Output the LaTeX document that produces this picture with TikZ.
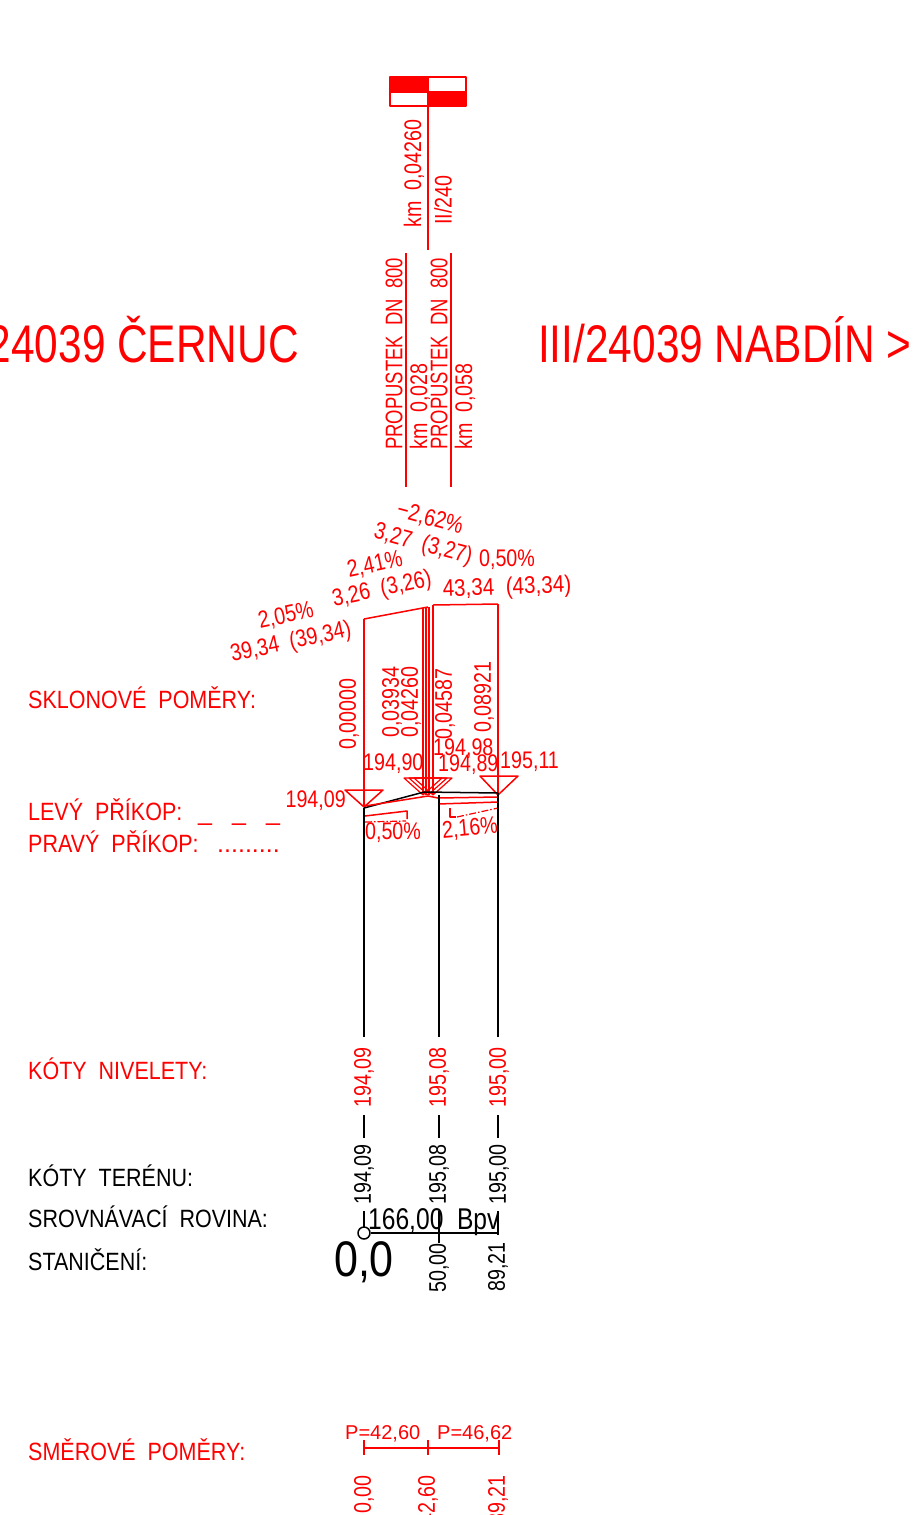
\documentclass[tikz,border=0pt]{standalone}
\usepackage{fontspec}
\setmainfont{Liberation Sans}
\usepackage{graphicx}
\definecolor{cadred}{RGB}{255,0,0}
\newcommand\nar[1]{\scalebox{0.82}[1]{#1}}
\newcommand\narl[1]{\scalebox{0.86}[1]{#1}}
\newcommand\ttl[1]{\scalebox{0.8}[1]{#1}}
\begin{document}
\begin{tikzpicture}[x=1pt,y=-1pt,line join=round,
  t/.style={inner sep=0pt,font=\fontsize{24}{24}\selectfont,text=cadred},
  tb/.style={inner sep=0pt,font=\fontsize{24}{24}\selectfont,text=black},
  lab/.style={inner sep=0pt,font=\fontsize{25}{25}\selectfont,anchor=base west},
  big/.style={inner sep=0pt,font=\fontsize{53}{53}\selectfont,text=cadred},
  rl/.style={draw=cadred,line width=1.5pt},
  bl/.style={draw=black,line width=1.5pt},
  dd/.style={draw=cadred,line width=1.2pt,dash pattern=on 7pt off 2pt on 1.5pt off 2pt}]
\useasboundingbox (0,0) rectangle (914,1515);
\clip (0,0) rectangle (914,1515);
\fill[white] (0,0) rectangle (914,1515);

% ---- flag and km mark
\fill[cadred] (390,77) rectangle (428,92);
\fill[cadred] (428,92) rectangle (466,106);
\draw[rl] (390,77) rectangle (466,106);
\draw[rl] (390,92) -- (466,92);
\coordinate (flagb) at (428,106);
\coordinate (kmend) at (428,250);
\draw[rl] (428,77) -- (flagb) -- (kmend);
\node[t,rotate=90,anchor=west] (kmA) at (414,228) {\nar{km\ \ 0,04260}};
\node[t,rotate=90,anchor=west] (road) at (443,225) {\nar{II/240}};

% ---- culverts
\coordinate (p1t) at (406,253); \coordinate (p1b) at (406,487);
\coordinate (p2t) at (451,253); \coordinate (p2b) at (451,487);
\draw[rl] (p1t) -- (p1b);
\draw[rl] (p2t) -- (p2b);
\node[t,rotate=90,anchor=west] (pr1) at (394,450) {\scalebox{0.77}[1]{PROPUSTEK\ \ DN\ \ 800}};
\node[t,rotate=90,anchor=west] (pk1) at (420,450) {\nar{km\ \ 0,028}};
\node[t,rotate=90,anchor=west] (pr2) at (439,450) {\scalebox{0.77}[1]{PROPUSTEK\ \ DN\ \ 800}};
\node[t,rotate=90,anchor=west] (pk2) at (465,450) {\nar{km\ \ 0,058}};

% ---- titles
\node[big,anchor=base east] (tl) at (299,362) {\ttl{24039 ČERNUC}};
\node[big,anchor=base west] (tr) at (538,362) {\ttl{III/24039 NABDÍN >}};

% ---- slope texts
\node[t,rotate=12] (s1) at (291,643) {\nar{39,34\ \ (39,34)}};
\node[t,rotate=12] (s2) at (286,616) {\nar{2,05\%}};
\node[t,rotate=12] (s3) at (382,590) {\nar{3,26\ \ (3,26)}};
\node[t,rotate=12] (s4) at (375,565) {\nar{2,41\%}};
\node[t,rotate=-15] (s5) at (423,545) {\nar{3,27\ \ (3,27)}};
\node[t,rotate=-15] (s6) at (430,519) {\nar{−2,62\%}};
\node[t] (s7) at (507,560) {\nar{0,50\%}};
\node[t,rotate=2] (s8) at (507,588) {\scalebox{0.86}[1]{43,34\ \ (43,34)}};

% ---- grade line and station verticals
\coordinate (g0) at (364,619);
\coordinate (g1) at (428,607);
\coordinate (g2) at (433,605);
\coordinate (g3) at (498,604);
\draw[rl] (g0) -- (g1);
\draw[rl] (g2) -- (g3);
\coordinate (v0b) at (364,807);
\coordinate (v3b) at (498,795);
\draw[rl] (g0) -- (v0b);
\draw[rl] (g3) -- (v3b);
\foreach \xx/\yy in {423/608,426/607,429/607,433/605}{
  \draw[draw=cadred,line width=1.2pt] (\xx,\yy) -- (\xx,795);
}
% triangles
\draw[rl] (345,790) -- (383,790) -- (v0b) -- cycle;
\draw[rl] (480,776) -- (518,776) -- (v3b) -- cycle;
\foreach \xx in {423,428,433}{
  \draw[draw=cadred,line width=1.2pt] (\xx-19,778) -- (\xx+19,778) -- (\xx,795) -- cycle;
}
% station texts
\node[t,rotate=90,anchor=west] (k0) at (349,750) {\nar{0,00000}};
\node[t,rotate=90,anchor=west] (k1) at (392,738) {\nar{0,03934}};
\node[t,rotate=90,anchor=west] (k2) at (411,738) {\nar{0,04260}};
\node[t,rotate=90,anchor=west] (k3) at (445,740) {\nar{0,04587}};
\node[t,rotate=90,anchor=west] (k4) at (484,733) {\nar{0,08921}};
% elevations
\node[t,anchor=base east] (e0) at (346,807) {\nar{194,09}};
\node[t,anchor=base west] (e1) at (363,770) {\nar{194,90}};
\node[t,anchor=base west] (e2) at (433,755) {\nar{194,98}};
\node[t,anchor=base west] (e3) at (438,771) {\nar{194,89}};
\node[t,anchor=base west] (e4) at (500,768) {\nar{195,11}};

% ---- terrain (black)
\coordinate (tA) at (364,808);
\coordinate (tB) at (424,792);
\coordinate (tC) at (498,793);
\draw[bl] (tA) -- (tB) -- (tC);
% ditches (red)
\draw[rl] (365,806) -- (428,796) -- (438,798) -- (498,797);
\draw[rl] (438,804) -- (498,802);
\draw[rl] (365,816) -- (407,811) -- (407,819);
\draw[dd] (365,822) -- (406,821);
\draw[rl] (450,808) -- (450,817) -- (456,817);
\draw[dd] (457,817) -- (498,808);
\node[t] (d1) at (393,833) {\nar{0,50\%}};
\node[t,rotate=5] (d2) at (470,829) {\nar{2,16\%}};

% ---- long black verticals
\foreach \xx/\yy in {364/808,439/795,498/793}{
  \draw[bl] (\xx,\yy) -- (\xx,1037);
  \draw[bl] (\xx,1115) -- (\xx,1138);
}
\draw[bl] (364,1211) -- (364,1227);
\draw[bl] (439,1211) -- (439,1243);
\draw[bl] (498,1211) -- (498,1235);
% levels
\node[t,rotate=90,anchor=west] (n0) at (364,1108) {\nar{194,09}};
\node[t,rotate=90,anchor=west] (n1) at (439,1108) {\nar{195,08}};
\node[t,rotate=90,anchor=west] (n2) at (499,1108) {\nar{195,00}};
\node[tb,rotate=90,anchor=west] (m0) at (364,1205) {\nar{194,09}};
\node[tb,rotate=90,anchor=west] (m1) at (439,1205) {\nar{195,08}};
\node[tb,rotate=90,anchor=west] (m2) at (499,1205) {\nar{195,00}};
% datum
\node[draw=black,line width=1.5pt,circle,minimum size=12pt,inner sep=0pt] (c0) at (364,1233) {};
\coordinate (dE) at (498,1233);
\draw[black,line width=2.5pt] (c0.east) -- (dE);
\node[tb,anchor=base west,font=\fontsize{30}{30}\selectfont] (bpv) at (368,1229) {\nar{166,00\ \ Bpv}};
\node[tb,font=\fontsize{50}{50}\selectfont] (zz) at (364,1262) {\scalebox{0.86}[1]{0,0}};
\node[tb,rotate=90,anchor=west] (st1) at (439,1293) {\nar{50,00}};
\node[tb,rotate=90,anchor=west] (st2) at (498,1292) {\nar{89,21}};

% ---- left labels
\node[lab,text=cadred] (L1) at (28,708) {\narl{SKLONOVÉ\ \ POMĚRY:}};
\node[lab,text=cadred] (L2) at (28,820) {\narl{LEVÝ\ \ PŘÍKOP:}};
\node[lab,text=cadred] (L2d) at (198,820) {\_\hspace{20pt}\_\hspace{20pt}\_};
\node[lab,text=cadred] (L3) at (28,852) {\narl{PRAVÝ\ \ PŘÍKOP:}};
\node[lab,text=cadred] (L3d) at (217,852) {.........};
\node[lab,text=cadred] (L4) at (28,1079) {\narl{KÓTY\ \ NIVELETY:}};
\node[lab,text=black] (L5) at (28,1186) {\narl{KÓTY\ \ TERÉNU:}};
\node[lab,text=black] (L6) at (28,1227) {\narl{SROVNÁVACÍ\ \ ROVINA:}};
\node[lab,text=black] (L7) at (28,1270) {\narl{STANIČENÍ:}};
\node[lab,text=cadred] (L8) at (28,1460) {\narl{SMĚROVÉ\ \ POMĚRY:}};

% ---- horizontal alignment
\coordinate (h0) at (364,1448); \coordinate (h1) at (428,1448); \coordinate (h2) at (499,1448);
\draw[rl] (h0) -- (h1) -- (h2);
\foreach \xx in {364,428,499}{ \draw[rl] (\xx,1440) -- (\xx,1455); }
\node[t,anchor=base west,font=\fontsize{20}{20}\selectfont] (P1) at (345,1439) {P=42,60};
\node[t,anchor=base west,font=\fontsize{20}{20}\selectfont] (P2) at (437,1439) {P=46,62};
\node[t,rotate=90,anchor=east] (b0) at (364,1475) {\nar{0,00}};
\node[t,rotate=90,anchor=east] (b1) at (428,1475) {\nar{42,60}};
\node[t,rotate=90,anchor=east] (b2) at (498,1475) {\nar{89,21}};
\end{tikzpicture}
\end{document}
